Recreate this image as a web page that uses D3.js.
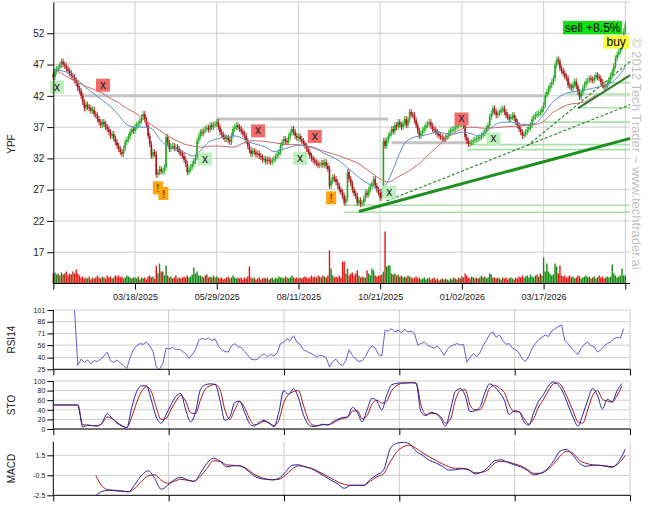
<!DOCTYPE html>
<html><head><meta charset="utf-8">
<script src="https://cdn.jsdelivr.net/npm/d3@7/dist/d3.min.js"></script>
<style>body{margin:0;background:#fff}svg{display:block;font-family:"Liberation Sans",Arial,sans-serif}</style>
</head><body><svg id="c" width="657" height="514"></svg>
<script>
// ---------- DATA ----------
const closes = [
45.0,45.9,46.3,46.5,47.0,47.5,47.0,46.8,46.3,46.0,
45.6,45.2,45.0,44.5,44.0,43.2,42.8,42.0,41.0,40.0,
40.6,40.2,40.0,39.6,39.8,39.1,38.9,38.3,37.8,37.3,
37.8,37.5,37.0,36.7,36.2,35.6,35.9,35.2,34.6,34.0,
33.5,33.0,32.7,33.6,34.6,35.0,35.5,36.2,36.6,36.4,
37.0,37.4,37.6,38.0,38.6,39.1,38.2,37.3,35.6,34.3,
32.4,33.0,32.7,29.4,29.8,30.3,29.9,30.0,30.6,35.4,
34.5,33.5,33.9,34.0,33.6,33.8,33.5,33.0,32.8,32.4,
31.8,31.1,29.8,30.2,30.6,31.1,31.6,32.2,34.8,35.5,
36.2,36.0,36.5,36.7,36.9,36.6,37.3,37.0,37.4,37.5,
37.8,37.0,36.2,35.8,35.4,35.1,35.3,34.9,34.6,35.6,
36.7,37.0,37.3,37.0,36.7,36.3,35.9,35.6,34.8,34.0,
33.3,32.7,33.2,33.0,32.6,32.8,32.4,32.2,31.8,31.9,
31.5,31.8,31.6,31.4,31.7,31.9,32.3,32.6,33.0,34.0,
34.6,35.1,34.8,34.6,35.5,36.1,36.7,36.2,35.6,35.3,
35.5,35.1,34.8,34.4,34.0,33.5,33.0,32.4,32.0,31.7,
31.4,31.2,30.9,31.0,31.3,31.0,31.4,30.8,30.3,27.6,
28.4,29.0,28.7,28.2,27.6,27.0,26.6,26.0,24.9,25.6,
29.8,28.7,28.0,27.0,26.4,26.0,24.9,25.3,24.7,24.9,
25.6,26.5,26.2,27.0,27.6,28.0,28.7,27.6,27.0,26.5,
25.7,26.6,34.8,34.0,34.9,35.6,36.0,36.7,36.3,37.3,
37.0,37.8,37.4,37.0,37.6,38.3,37.3,38.2,39.4,39.0,
38.9,38.1,37.3,36.4,35.6,36.0,36.5,36.9,37.3,37.5,
37.8,37.2,36.7,36.5,36.2,35.9,35.6,35.4,35.2,35.1,
35.4,35.6,36.1,36.5,36.6,36.7,37.0,37.2,37.4,37.5,
37.6,37.3,35.4,34.8,34.3,34.5,34.6,34.9,35.0,35.1,
35.3,35.4,35.7,36.0,36.2,36.8,37.3,38.6,39.2,40.0,
39.5,38.9,39.2,39.4,39.8,40.0,39.4,38.9,38.6,38.3,
38.6,38.9,38.4,37.8,37.3,36.7,36.2,35.6,35.9,36.2,
36.6,36.9,37.3,38.3,38.6,38.9,39.1,39.2,39.4,39.9,
40.5,42.1,42.6,43.1,43.7,44.2,44.8,46.9,47.8,47.5,
46.4,46.0,45.6,45.1,44.8,43.7,43.5,43.2,43.8,44.3,
43.5,42.6,41.8,42.5,43.2,43.8,44.3,44.5,44.8,44.6,
44.5,44.9,45.3,45.0,44.8,44.2,43.7,43.4,43.5,44.0,
44.5,45.2,45.9,46.8,48.0,48.6,49.1,49.6,50.8,52.3,
53.4];
const firstOpen = 45.4;
const volumes = [
5,5.5,4.5,5,4,5.5,4.5,5,6,4,
5,4.5,6,5,7,5,4,3,3.5,2.5,
3,2.5,3.5,2,3,2.5,3,4,3,2.5,
3.5,3,2.5,4,3,3.5,2.5,3,4,3.5,
4,3,3.5,2.5,3,4,3.5,3,2.5,3,
3,2.5,3.5,2,3,2.5,3,2,3.5,4,
3,3.5,2.5,9,5,10,6,6,4,9,
4,3,3.5,2.5,3,4,2.5,3,2.5,3,
3.5,3,4,3,3.5,4.5,8,5,6,4,
4,3.5,3,4,4.5,3,3.5,3,4,3,
3.5,3,2.5,3,2,2.5,3,3.5,2.5,3,
4,3,2.5,3,2.5,3,2,3,2.5,3.5,
8.5,3,2.5,3,2,2.5,3,2,2.5,3,
2.5,3,2,2.5,3,2,3,2.5,3.5,3,
3,2.5,3.5,3,2.5,3,4,3,2.5,3,
2.5,3,2.5,3,3.5,3,2.5,3,4,3,
3.5,3,4,3.5,3,4,3.5,3,4,16.5,
7.5,4,3,3.5,3,4,3,11,11,5,
7.5,4,5,5.5,4,5,6.5,4,3,3.5,
3,3,6.5,5,4,7.5,6.5,4,3.5,4,
4,4.5,6,26,8.5,9,9,5,4.5,5,
4,4.5,3.5,4,3,3.5,3,4,3.5,3,
2.5,3,3.5,2.5,3,2,2.5,3,2,2.5,
3,2,2.5,3,2,2.5,1.5,2,2.5,2,
2.5,2,1.5,2.5,2,3,2.5,2,3,2.5,
3.5,3,5,4,3,2.5,3.5,3,2.5,3,
2.5,3,4,3,3.5,2.5,3,5,4.5,3,
3,2.5,3,2.5,2,3,2.5,3,2,2.5,
3,2.5,2,3,2.5,3.5,3,4,3,3.5,
4,3,4.5,3.5,3,4,4.5,3.5,5,4,
13,6,10,6,5,4,4.5,10,8.5,5,
9,4,3.5,4,3,3.5,4,3,3.5,2.5,
3,4,3.5,2.5,3,3.5,4,3,3.5,2.5,
3,3.5,2.5,3,4,3,3.5,2.5,3,3.5,
3,3.5,9.5,5,4,3,3.5,4,7.5,4,
4];
const maStep = 5;
const maFast = [
46.2,46.0,45.6,44.5,43.3,42.3,41.3,40.3,38.9,37.4,
37.0,37.0,36.8,35.1,33.9,33.4,33.0,32.4,33.2,34.6,
35.1,35.4,35.6,35.3,34.6,34.2,33.8,33.1,33.4,33.8,
34.1,34.0,33.7,32.9,32.3,31.6,30.5,29.4,28.4,27.6,
27.0,28.5,31.6,34.4,35.3,35.6,35.9,36.2,36.0,35.9,
36.2,36.0,35.6,36.3,37.3,37.8,37.8,37.5,37.4,37.6,
39.0,40.8,41.9,42.5,42.7,42.9,43.2,43.5,43.9,44.9,
46.6];
const maSlow = [
46.2,45.6,44.8,44.1,43.5,43.0,42.4,41.6,40.9,40.0,
39.3,38.3,37.4,36.5,35.6,34.9,34.3,34.0,33.8,33.9,
34.0,33.9,33.8,34.3,34.8,34.8,34.7,34.5,34.3,34.2,
34.2,33.9,33.6,33.2,32.8,32.4,31.9,31.4,30.6,29.6,
28.7,28.2,28.9,29.6,30.4,31.4,32.7,33.9,35.0,36.0,
36.7,37.0,36.9,36.8,36.9,37.0,37.1,37.2,37.3,37.4,
37.9,39.2,40.0,40.6,40.8,41.0,41.8,42.4,43.2,44.0,
44.9];
const rsiStart = 13, rsiStep = 2;
const rsi14 = [
101,30,38,34,37,32,36,35,38,42,
47,36,34,37,33,30,26,40,50,55,
58,57,60,55,48,28,25,32,52,51,
53,50,51,48,45,39,44,50,62,65,
63,65,62,64,55,50,48,47,55,58,
54,53,48,43,38,37,38,42,45,41,
44,42,46,58,60,64,62,68,60,57,
50,48,46,44,41,43,42,40,28,35,
38,32,30,36,50,43,38,35,36,41,
50,55,52,44,42,75,74,77,73,75,
72,76,73,74,71,56,58,60,56,54,
52,55,50,43,50,55,56,58,56,57,
34,40,45,41,46,55,62,70,73,66,
69,62,57,58,52,50,46,38,35,42,
52,58,63,66,69,67,74,77,80,82,
62,58,52,48,44,52,57,60,55,54,
47,50,55,58,60,64,66,65,77];
const stoStep = 3;
const stoK = [
50,50,50,50,50,50,4,8,7,6,
14,32,22,12,6,3,45,78,90,90,
60,25,12,30,50,68,74,40,15,35,
82,92,94,93,60,18,25,55,58,35,
12,6,14,18,12,5,35,80,72,84,
65,30,10,5,7,10,8,15,20,24,
25,45,35,15,40,64,58,40,70,92,
95,96,96,97,95,35,28,35,32,22,
6,40,78,84,70,36,38,45,75,94,
88,76,60,30,38,36,15,8,35,58,
72,90,98,92,75,50,25,6,30,60,
84,70,42,62,57,80,95];
const stoD = [
50,50,50,50,50,50,9,8,7,7,
12,25,22,14,7,3,25,55,78,88,
78,45,20,22,40,58,70,58,34,32,
60,83,90,93,82,40,20,40,57,45,
22,9,11,16,13,7,18,55,72,78,
80,50,20,8,7,9,9,12,18,22,
24,37,38,22,28,52,60,54,58,80,
90,95,96,96,96,50,30,32,32,26,
12,20,60,80,82,50,40,40,58,85,
91,85,76,50,36,36,22,10,22,46,
62,80,94,96,84,62,38,15,12,40,
70,80,62,58,56,70,90];
const macdStart = 26, macdStep = 4;
const macdLine = [
-2.5,-2.1,-2.0,-2.05,-2.1,-2.15,-1.4,-0.5,-0.05,-0.8,
-1.9,-1.5,-0.95,-0.7,-0.95,-1.1,-0.3,0.7,1.2,0.9,
0.35,0.45,0.45,0.1,-0.45,-0.8,-0.9,-0.95,-0.8,-0.2,
0.5,0.55,0.35,0.15,-0.2,-0.6,-1.0,-1.35,-1.8,-1.5,
-1.5,-1.5,-0.9,-0.45,0.0,2.1,2.7,2.8,2.65,1.9,
1.5,1.0,0.75,0.4,0.03,0.05,0.15,0.05,-0.35,-0.2,
0.3,0.95,1.05,0.8,0.55,0.35,0.0,-0.45,-0.3,0.1,
0.9,1.9,2.1,1.5,0.7,0.4,0.5,0.5,0.4,0.3,
0.9,2.1];
const macdSignal = [
-0.5,-1.6,-1.95,-2.0,-2.05,-2.15,-1.8,-1.1,-0.55,-0.45,
-1.0,-1.3,-1.1,-0.9,-1.0,-1.1,-0.6,0.2,0.95,0.9,
0.55,0.5,0.45,0.2,-0.3,-0.65,-0.85,-0.95,-0.9,-0.5,
0.1,0.45,0.35,0.2,-0.1,-0.45,-0.8,-1.15,-1.4,-1.5,
-1.5,-1.5,-1.1,-0.65,-0.35,0.8,1.8,2.35,2.5,2.2,
1.75,1.35,1.0,0.65,0.35,0.2,0.2,0.1,-0.25,-0.2,
0.05,0.7,0.9,0.85,0.65,0.45,0.1,-0.3,-0.3,0.0,
0.6,1.4,1.9,1.7,1.0,0.7,0.55,0.5,0.45,0.35,
0.7,1.5];
const dateTickIdx = [0,50,100,150,200,250,300,350];
const dateLabels = ["","03/18/2025","05/29/2025","08/11/2025","10/21/2025","01/02/2026","03/17/2026",""];
const priceTicks = [17,22,27,32,37,42,47,52];
const rsiTicks = [101,86,71,56,40,25];
const stoTicks = [100,80,60,40,20,0];
const macdTicks = [1.5,-0.5,-2.5];
const resistance = [{level:42.0,from:18,to:300},{level:38.3,from:100,to:205},{level:34.5,from:207,to:255}];
const supportLevels = [{level:44.1,from:342},{level:42.3,from:314},{level:40.1,from:322},{level:37.8,from:298},
  {level:34.2,from:255},{level:33.4,from:253},{level:24.5,from:178},{level:23.4,from:178}];
const trendLines = [
  {a:[187,23.5],b:[353,35.2],w:3,dash:null,color:"#1f8f1f"},
  {a:[204,25.2],b:[353,40.6],w:1.2,dash:"3,2",color:"#2f8a2f"},
  {a:[290,34.0],b:[353,47.5],w:1.2,dash:"3,2",color:"#2f8a2f"},
  {a:[321,40.0],b:[353,45.3],w:2,dash:null,color:"#2c7c2c"}];
const markers = [
  {idx:2.3,price:43.4,kind:"g",t:"x"},{idx:30.4,price:43.7,kind:"r",t:"x"},
  {idx:64,price:27.3,kind:"o",t:"!"},{idx:67.4,price:26.4,kind:"o",t:"!"},
  {idx:92.8,price:31.9,kind:"g",t:"x"},{idx:125.3,price:36.4,kind:"r",t:"x"},
  {idx:151,price:32.0,kind:"g",t:"x"},{idx:160,price:35.5,kind:"r",t:"x"},
  {idx:170,price:25.7,kind:"o",t:"!"},{idx:205.6,price:26.6,kind:"g",t:"x"},
  {idx:249.8,price:38.3,kind:"r",t:"x"},{idx:269.3,price:35.1,kind:"g",t:"x"}];
const signals = [{text:"sell +8.5%",idx:330,price:52.9,fill:"#12e012"},{text:"buy",idx:344.4,price:50.6,fill:"#ffff3c"}];

// ---------- CHART ----------
const svg = d3.select("#c");
const L = 53.3, R = 630;
const x = d3.scaleLinear().domain([0,350]).range([L,625.3]);
const yP = d3.scaleLinear().domain([12,57]).range([283.5,2]);
const yV = d3.scaleLinear().domain([0,26]).range([283.5,231.5]);
const grid = "#cccccc";

const gMain = svg.append("g");
gMain.selectAll(".hg").data(priceTicks.concat([57])).join("line")
  .attr("x1",L).attr("x2",R).attr("y1",d=>yP(d)).attr("y2",d=>yP(d)).attr("stroke",grid);
gMain.selectAll(".vg").data(dateTickIdx.slice(1)).join("line")
  .attr("x1",d=>x(d)).attr("x2",d=>x(d)).attr("y1",yP(57)).attr("y2",yP(12)).attr("stroke",grid);

gMain.selectAll(".res").data(resistance).join("line")
  .attr("x1",d=>x(d.from)).attr("x2",d=>x(d.to)).attr("y1",d=>yP(d.level)).attr("y2",d=>yP(d.level))
  .attr("stroke","#c4c4c4").attr("stroke-width",3);
gMain.selectAll(".sup").data(supportLevels).join("line")
  .attr("x1",d=>x(d.from)).attr("x2",R).attr("y1",d=>yP(d.level)).attr("y2",d=>yP(d.level))
  .attr("stroke","#a9dfa9").attr("stroke-width",1.6);

const volColor = (i)=>{const p=i?closes[i-1]:firstOpen, d=closes[i]-p;
  return Math.abs(d)<0.25?"#8b441a":(d>0?"#148a14":"#e81414");};
gMain.selectAll(".vol").data(volumes).join("rect")
  .attr("x",(d,i)=>x(i)-0.7).attr("width",1.4)
  .attr("y",d=>yV(d)).attr("height",d=>yV(0)-yV(d)).attr("fill",(d,i)=>volColor(i));

const cand = gMain.append("g");
closes.forEach((c,i)=>{
  const o = i?closes[i-1]:firstOpen;
  const up = c>=o, col = up?"#22aa22":"#a81616";
  const top = yP(Math.max(o,c)), bot = yP(Math.min(o,c));
  cand.append("line").attr("x1",x(i)).attr("x2",x(i)).attr("y1",top-3).attr("y2",bot+3)
    .attr("stroke",col).attr("stroke-width",0.9);
  cand.append("rect").attr("x",x(i)-0.8).attr("width",1.6).attr("y",top)
    .attr("height",Math.max(1.2,bot-top)).attr("fill",col);
});

const maLine = d3.line().x((d,i)=>x(i*maStep)).y(d=>yP(d)).curve(d3.curveMonotoneX);
gMain.append("path").attr("d",maLine(maSlow)).attr("fill","none").attr("stroke","#cc6a6a").attr("stroke-width",1);
gMain.append("path").attr("d",maLine(maFast)).attr("fill","none").attr("stroke","#5b8ec4").attr("stroke-width",1);

gMain.selectAll(".tr").data(trendLines).join("line")
  .attr("x1",d=>x(d.a[0])).attr("y1",d=>yP(d.a[1])).attr("x2",d=>x(d.b[0])).attr("y2",d=>yP(d.b[1]))
  .attr("stroke",d=>d.color).attr("stroke-width",d=>d.w).attr("stroke-dasharray",d=>d.dash);

const mFill = {g:"#bdeebd",r:"#f26c6c",o:"#ffa40a"};
const mg = gMain.selectAll(".mk").data(markers).join("g")
  .attr("transform",d=>`translate(${x(d.idx)},${yP(d.price)})`);
mg.append("rect").attr("x",d=>d.kind==="o"?-5:-7).attr("y",-6.5).attr("width",d=>d.kind==="o"?10:14).attr("height",13)
  .attr("fill",d=>mFill[d.kind]);
mg.append("text").attr("text-anchor","middle").attr("y",d=>d.t==="x"?3.5:4.5).attr("font-size",d=>d.t==="x"?12:11)
  .attr("fill","#222").text(d=>d.t);

signals.forEach(s=>{
  const g = gMain.append("g").attr("transform",`translate(${x(s.idx)},${yP(s.price)})`);
  const r = g.append("rect").attr("fill",s.fill);
  const t = g.append("text").attr("text-anchor","middle").attr("y",4.3).attr("font-size",12).attr("fill","#000").text(s.text);
  const w = t.node().getComputedTextLength()+(s.text.length>4?3.5:6.5);
  r.attr("x",-w/2).attr("y",-6.7).attr("width",w).attr("height",13.4);
});

const axL = gMain.append("g").attr("transform",`translate(${L},0)`)
  .call(d3.axisLeft(yP).tickValues(priceTicks).tickSize(6).tickSizeOuter(0).tickPadding(3));
axL.select(".domain").attr("stroke","#000");
axL.selectAll("text").attr("font-size",10).attr("font-family","Liberation Sans, Arial").attr("fill","#222");
const axB = gMain.append("g").attr("transform",`translate(0,${yP(12)})`)
  .call(d3.axisBottom(x).tickValues(dateTickIdx).tickFormat((d,i)=>dateLabels[i]).tickSize(6).tickSizeOuter(0).tickPadding(4));
axB.select(".domain").remove();
axB.append("line").attr("x1",L).attr("x2",R).attr("stroke","#000");
axB.selectAll("text").attr("font-size",9).attr("font-family","Liberation Sans, Arial").attr("fill","#222");

svg.append("text").attr("transform","translate(15,144) rotate(-90)").attr("text-anchor","middle")
  .attr("font-size",10).attr("fill","#222").text("YPF");

svg.append("text").attr("transform","translate(632,38) rotate(90)").attr("font-size",13)
  .attr("fill","#c2c2c2").text("© 2012 Tech Trader ~ www.techtrader.ai");

// ---------- LOWER PANELS ----------
const xf = d3.scaleLinear().domain([0,5]).range([L,R]);
function panel(name, yScale, ticks, top, bottom, gridVals, fmt){
  const g = svg.append("g");
  g.selectAll(".h").data(gridVals).join("line").attr("x1",L).attr("x2",R)
    .attr("y1",d=>yScale(d)).attr("y2",d=>yScale(d)).attr("stroke",grid);
  g.selectAll(".v").data([1,2,3,4,5]).join("line").attr("x1",d=>xf(d)).attr("x2",d=>xf(d))
    .attr("y1",top).attr("y2",bottom).attr("stroke",grid);
  const a = g.append("g").attr("transform",`translate(${L},0)`)
    .call(d3.axisLeft(yScale).tickValues(ticks).tickFormat(fmt).tickSize(6).tickSizeOuter(0).tickPadding(2));
  a.select(".domain").remove();
  g.append("line").attr("x1",L).attr("x2",L).attr("y1",top).attr("y2",bottom).attr("stroke","#000");
  a.selectAll("text").attr("font-size",7).attr("font-family","Liberation Sans, Arial").attr("fill","#222");
  const b = g.append("g").attr("transform",`translate(0,${bottom})`)
    .call(d3.axisBottom(xf).tickValues([0,1,2,3,4,5]).tickFormat("").tickSize(6).tickSizeOuter(0));
  b.select(".domain").remove();
  b.append("line").attr("x1",L).attr("x2",R).attr("stroke","#000");
  svg.append("text").attr("transform",`translate(15,${(top+bottom)/2}) rotate(-90)`).attr("text-anchor","middle")
    .attr("font-size",10).attr("fill","#222").text(name);
  const cid = "clip"+name;
  svg.append("clipPath").attr("id",cid).append("rect").attr("x",L).attr("y",top-1).attr("width",R-L).attr("height",bottom-top+1);
  return g.append("g").attr("clip-path",`url(#${cid})`);
}
const yR = d3.scaleLinear().domain([25,101]).range([369.3,310]);
const pR = panel("RSI14", yR, rsiTicks, 310, 369.3, rsiTicks, d=>d);
pR.append("path").attr("d",d3.line().x((d,i)=>x(rsiStart+i*rsiStep)).y(d=>yR(d))(rsi14))
  .attr("fill","none").attr("stroke","#6a5ad0").attr("stroke-width",1);
const yS = d3.scaleLinear().domain([0,100]).range([429,381]);
const pS = panel("STO", yS, stoTicks, 381, 429, stoTicks, d=>d);
const stoLine = d3.line().x((d,i)=>x(i*stoStep)).y(d=>yS(d)).curve(d3.curveMonotoneX);
pS.append("path").attr("d",stoLine(stoD)).attr("fill","none").attr("stroke","#a51c1c").attr("stroke-width",1);
pS.append("path").attr("d",stoLine(stoK)).attr("fill","none").attr("stroke","#2424a4").attr("stroke-width",1);
const yM = d3.scaleLinear().domain([-2.5,2.86]).range([495.3,441.7]);
const pM = panel("MACD", yM, macdTicks, 441.7, 495.3, [1.5,-0.5], d=>d);
const mLine = d3.line().x((d,i)=>x(macdStart+i*macdStep)).y(d=>yM(d)).curve(d3.curveMonotoneX);
pM.append("path").attr("d",mLine(macdSignal)).attr("fill","none").attr("stroke","#a51c1c").attr("stroke-width",1);
pM.append("path").attr("d",mLine(macdLine)).attr("fill","none").attr("stroke","#2424a4").attr("stroke-width",1);
</script></body></html>
